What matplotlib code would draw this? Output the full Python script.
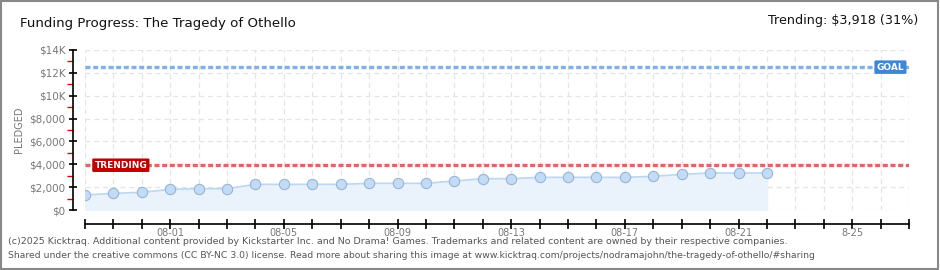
import matplotlib.pyplot as plt
import matplotlib.dates as mdates
import matplotlib.ticker as mticker
import pandas as pd

# daily pledged totals
dates = pd.date_range('2025-07-29', '2025-08-22', freq='D')
pledged = [1312, 1458, 1545, 1808, 1866, 1866, 2245, 2245, 2245, 2245,
           2333, 2333, 2333, 2537, 2741, 2741, 2858, 2858, 2858, 2858,
           2945, 3120, 3237, 3237, 3237]
goal = 12500
trending = 3918
x_start = pd.Timestamp('2025-07-29')
x_end = pd.Timestamp('2025-08-27')
y_ticks = [0, 2000, 4000, 6000, 8000, 10000, 12000, 14000]
y_labels = ['$0', '$2,000', '$4,000', '$6,000', '$8,000', '$10K', '$12K', '$14K']

fig = plt.figure(figsize=(9.4, 2.7), dpi=100)
fig.patches.append(plt.Rectangle((0.001, 0.002), 0.997, 0.995, transform=fig.transFigure,
                                 fill=False, edgecolor='#888888', linewidth=1.5))
ax = fig.add_axes([85 / 940, 1 - 210 / 270, (909 - 85) / 940, 160 / 270])

ax.fill_between(dates, pledged, 0, color='#eaf2fc', zorder=1)
ax.plot(dates, pledged, color='#bcd7f3', linewidth=1.2, zorder=2)
ax.scatter(dates, pledged, s=55, color='#c2dcf7', edgecolor='#98b4d4', linewidth=0.8, zorder=3)

ax.axhline(goal, color='#7fb0e6', linestyle=(0, (1.5, 0.8)), linewidth=2.4, zorder=2)
ax.axhline(trending, color='#e06666', linestyle=(0, (1.5, 0.8)), linewidth=2.4, zorder=2)

ax.text(pd.Timestamp('2025-07-29 08:00'), trending, 'TRENDING', color='white', fontsize=6.5,
        fontweight='bold', va='center', ha='left', zorder=5,
        bbox=dict(boxstyle='round,pad=0.25,rounding_size=0.15', facecolor='#c00000', edgecolor='none'))
ax.text(pd.Timestamp('2025-08-26 20:00'), goal, 'GOAL', color='white', fontsize=6.5,
        fontweight='bold', va='center', ha='right', zorder=5,
        bbox=dict(boxstyle='round,pad=0.25,rounding_size=0.15', facecolor='#3d87d6', edgecolor='none'))

ax.set_xlim(x_start, x_end)
ax.set_ylim(0, 14000)
ax.set_yticks(y_ticks)
ax.set_yticklabels(y_labels)
ax.yaxis.set_minor_locator(mticker.MultipleLocator(1000))
ax.tick_params(axis='y', which='minor', length=4, color='#dd0000', width=1)
ax.tick_params(axis='y', which='major', length=6, color='black', width=1.2, direction='inout',
               labelsize=7.5, labelcolor='#777777', pad=2)

ax.xaxis.set_major_locator(mdates.DayLocator())
ax.xaxis.set_major_formatter(mticker.NullFormatter())
ax.tick_params(axis='x', which='major', length=7, color='black', width=1.2, direction='inout')
label_days = pd.date_range('2025-08-01', '2025-08-25', freq='4D')
for d in label_days:
    txt = d.strftime('%m-%d') if d.day != 25 else '8-25'
    ax.text(d, -0.115, txt, transform=ax.get_xaxis_transform(), ha='center', va='top',
            fontsize=7, color='#777777')

ax.grid(True, which='major', color='#e4e4e4', linestyle=(0, (4, 3)), linewidth=0.9)
ax.set_axisbelow(True)
for s in ['top', 'right']:
    ax.spines[s].set_visible(False)
ax.spines['left'].set_position(('outward', 9))
ax.spines['bottom'].set_position(('outward', 10))
ax.spines['left'].set_linewidth(1.2)
ax.spines['bottom'].set_linewidth(1.2)

ax.set_ylabel('PLEDGED', fontsize=7, color='#777777', labelpad=4)

fig.text(20 / 940, 1 - 23 / 270, 'Funding Progress: The Tragedy of Othello', fontsize=9.6,
         color='#111111', va='center', ha='left')
fig.text(918 / 940, 1 - 21 / 270, 'Trending: $3,918 (31%)', fontsize=9.2,
         color='#111111', va='center', ha='right')
fig.text(8 / 940, 1 - 242 / 270,
         '(c)2025 Kicktraq. Additional content provided by Kickstarter Inc. and No Drama! Games. '
         'Trademarks and related content are owned by their respective companies.',
         fontsize=6.8, color='#555555', va='center', ha='left')
fig.text(8 / 940, 1 - 256 / 270,
         'Shared under the creative commons (CC BY-NC 3.0) license. Read more about sharing this image at '
         'www.kicktraq.com/projects/nodramajohn/the-tragedy-of-othello/#sharing',
         fontsize=6.7, color='#555555', va='center', ha='left')

fig.savefig('out.png', dpi=100)
